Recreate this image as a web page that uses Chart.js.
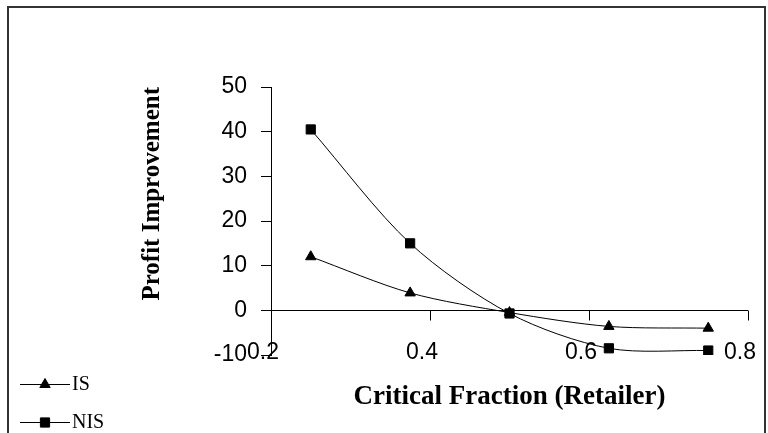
<!DOCTYPE html>
<html>
<head>
<meta charset="utf-8">
<script src="https://cdn.jsdelivr.net/npm/chart.js@4.4.1/dist/chart.umd.min.js"></script>
<style>
  html, body { margin: 0; padding: 0; background: #fff; }
  #wrap { position: relative; width: 768px; height: 433px; overflow: hidden; }
  #frame { position: absolute; left: 7px; top: 6px; width: 755px; height: 440px;
           border: 2px solid #333; box-sizing: content-box; }
  canvas { position: absolute; left: 0; top: 0; }
</style>
</head>
<body>
<div id="wrap">
  <div id="frame"></div>
  <canvas id="c" width="768" height="433"></canvas>
</div>
<script>
// ---- data ----
const criticalFraction = [0.25, 0.375, 0.5, 0.625, 0.75];
const isValues  = [12, 3.9, -0.5, -3.6, -4];
const nisValues = [40.5, 15, -0.7, -8.5, -9];
const seriesNames = ["IS", "NIS"];
const xTickValues = [0.2, 0.4, 0.6, 0.8];
const yTickValues = [-10, 0, 10, 20, 30, 40, 50];

const toPoints = (ys) => criticalFraction.map((x, i) => ({ x: x, y: ys[i] }));

// zero axis line with downward tick marks, and x tick labels at the bottom (drawn through the scales)
const zeroAxis = {
  id: 'zeroAxis',
  beforeDatasetsDraw(chart) {
    const { ctx, chartArea, scales } = chart;
    const y0 = Math.round(scales.y.getPixelForValue(0)) + 0.5;
    ctx.save();
    ctx.strokeStyle = '#000';
    ctx.lineWidth = 1;
    ctx.beginPath();
    ctx.moveTo(chartArea.left, y0);
    ctx.lineTo(chartArea.right, y0);
    xTickValues.forEach(v => {
      const px = Math.round(scales.x.getPixelForValue(v)) + 0.5;
      ctx.moveTo(px, y0);
      ctx.lineTo(px, y0 + 10);
    });
    ctx.stroke();
    ctx.restore();
  },
  afterDraw(chart) {
    const { ctx, scales } = chart;
    const yBottom = scales.y.getPixelForValue(yTickValues[0]);
    ctx.save();
    ctx.fillStyle = '#000';
    ctx.font = '23px "Liberation Sans"';
    ctx.textAlign = 'center';
    ctx.textBaseline = 'middle';
    xTickValues.forEach(v => {
      const px = scales.x.getPixelForValue(v) - 8;
      ctx.fillText(v.toFixed(1), px, yBottom - 2);
    });
    ctx.restore();
  }
};

// legend with line + marker samples, bottom-left
const lineLegend = {
  id: 'lineLegend',
  afterDraw(chart) {
    const { ctx } = chart;
    ctx.save();
    chart.data.datasets.forEach((ds, i) => {
      const y = 384 + i * 38;
      ctx.strokeStyle = '#000';
      ctx.lineWidth = 1;
      ctx.beginPath();
      ctx.moveTo(20, y + 0.5);
      ctx.lineTo(70, y + 0.5);
      ctx.stroke();
      ctx.fillStyle = '#000';
      Chart.helpers.drawPoint(ctx, {
        pointStyle: ds.pointStyle, radius: ds.pointRadius, borderWidth: 1, rotation: 0
      }, 45, y + 0.5);
      ctx.fillStyle = '#000';
      ctx.font = '20px "Liberation Serif"';
      ctx.textBaseline = 'middle';
      ctx.textAlign = 'left';
      ctx.fillText(ds.label, 72, y + 1);
    });
    ctx.restore();
  }
};

new Chart(document.getElementById('c'), {
  type: 'line',
  data: {
    datasets: [
      {
        label: seriesNames[0],
        data: toPoints(isValues),
        borderColor: '#000', backgroundColor: '#000',
        borderWidth: 1, pointStyle: 'triangle', pointRadius: 6,
        pointBackgroundColor: '#000', pointBorderColor: '#000',
        tension: 0.3
      },
      {
        label: seriesNames[1],
        data: toPoints(nisValues),
        borderColor: '#000', backgroundColor: '#000',
        borderWidth: 1, pointStyle: 'rect', pointRadius: 6.5,
        pointBackgroundColor: '#000', pointBorderColor: '#000',
        tension: 0.3
      }
    ]
  },
  options: {
    responsive: false,
    animation: false,
    layout: { padding: { left: 20, top: 87, right: 20, bottom: 0 } },
    plugins: { legend: { display: false }, tooltip: { enabled: false } },
    scales: {
      x: {
        type: 'linear', min: 0.2, max: 0.8,
        afterBuildTicks: (s) => { s.ticks = xTickValues.map(v => ({ value: v })); },
        afterFit: (s) => { s.height = 78; },
        border: { display: false },
        grid: { display: false, drawTicks: false },
        ticks: { display: false },
        title: {
          display: true, text: 'Critical Fraction (Retailer)', color: '#000',
          font: { family: '"Liberation Serif"', size: 27, weight: 'bold', lineHeight: 1.2 },
          padding: { top: 0, bottom: 20 }
        }
      },
      y: {
        min: -10, max: 50,
        afterBuildTicks: (s) => { s.ticks = yTickValues.map(v => ({ value: v })); },
        afterFit: (s) => { s.width = 251; },
        border: { display: true, color: '#000', width: 1 },
        grid: {
          drawOnChartArea: false, drawTicks: true, tickLength: 10,
          tickColor: '#000', color: '#000', lineWidth: 1
        },
        ticks: {
          padding: 14, color: '#000',
          font: { family: '"Liberation Sans"', size: 23 }
        },
        title: {
          display: true, text: 'Profit Improvement', color: '#000', align: 'end',
          font: { family: '"Liberation Serif"', size: 25, weight: 'bold', lineHeight: 1.2 },
          padding: { top: 118, bottom: 0 }
        }
      }
    }
  },
  plugins: [zeroAxis, lineLegend]
});
</script>
</body>
</html>
